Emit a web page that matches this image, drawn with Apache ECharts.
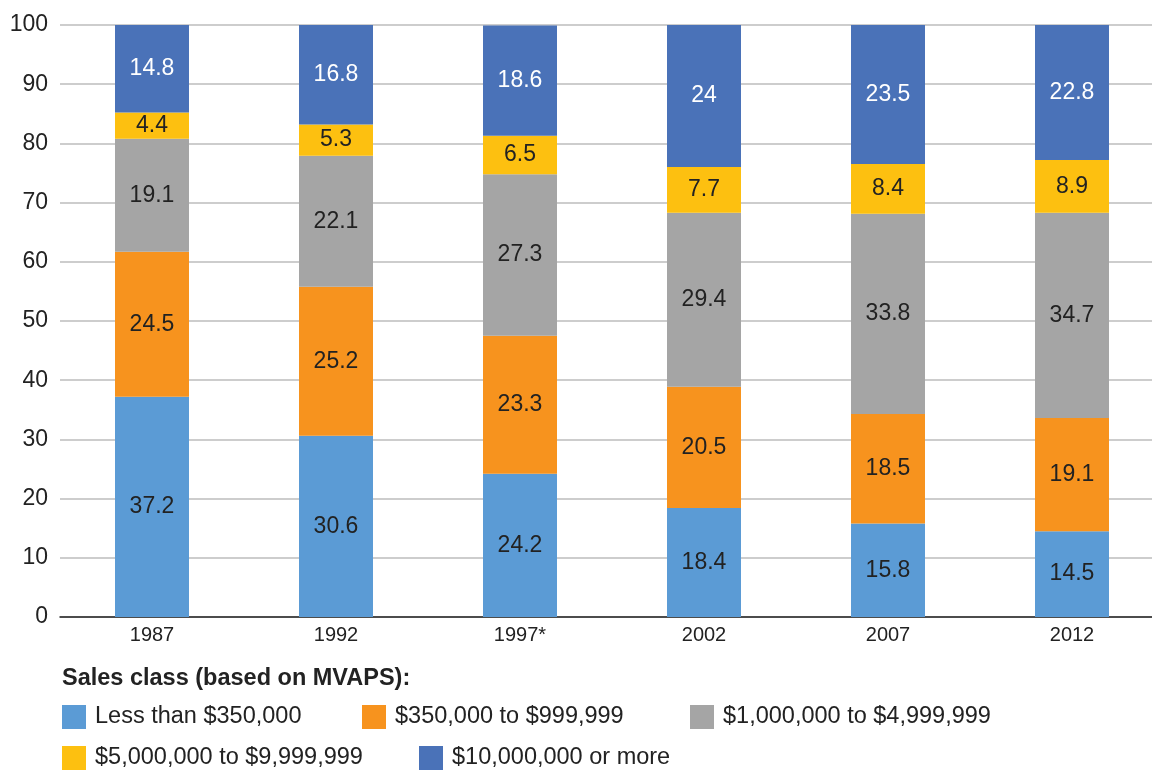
<!DOCTYPE html>
<html>
<head>
<meta charset="utf-8">
<script src="https://cdn.jsdelivr.net/npm/echarts@6/dist/echarts.min.js"></script>
<style>html,body{margin:0;padding:0;background:#fff}#c{width:1152px;height:772px}</style>
</head>
<body>
<div id="c"></div>
<script>
const categories = ['1987', '1992', '1997*', '2002', '2007', '2012'];
const seriesNames = ['Less than $350,000', '$350,000 to $999,999', '$1,000,000 to $4,999,999', '$5,000,000 to $9,999,999', '$10,000,000 or more'];
const lessThan350k = [37.2, 30.6, 24.2, 18.4, 15.8, 14.5];
const from350kTo999k = [24.5, 25.2, 23.3, 20.5, 18.5, 19.1];
const from1mTo4999k = [19.1, 22.1, 27.3, 29.4, 33.8, 34.7];
const from5mTo9999k = [4.4, 5.3, 6.5, 7.7, 8.4, 8.9];
const over10m = [14.8, 16.8, 18.6, 24, 23.5, 22.8];
const yTicks = { min: 0, max: 100, interval: 10 };

const colors = ['#5B9BD5', '#F7931E', '#A5A5A5', '#FDC010', '#4A72B8'];
const labelColors = ['#222', '#222', '#222', '#222', '#fff'];
const values = [lessThan350k, from350kTo999k, from1mTo4999k, from5mTo9999k, over10m];
const FONT = 'Liberation Sans, Arial, sans-serif';

const series = values.map((v, i) => ({
  name: seriesNames[i],
  type: 'bar',
  stack: 'total',
  barWidth: 74,
  data: v,
  itemStyle: { color: colors[i] },
  label: {
    show: true,
    position: 'inside',
    color: labelColors[i],
    fontSize: 23,
    fontFamily: FONT
  },
  emphasis: { disabled: true }
}));

const legendPos = [
  { left: 62, top: 705 },
  { left: 362, top: 705 },
  { left: 690, top: 705 },
  { left: 62, top: 746 },
  { left: 419, top: 746 }
];
const legends = seriesNames.map((n, i) => ({
  data: [n],
  left: legendPos[i].left,
  top: legendPos[i].top,
  padding: 0,
  itemWidth: 24,
  itemHeight: 24,
  itemGap: 10,
  icon: 'rect',
  selectedMode: false,
  textStyle: { fontSize: 23.5, color: '#222', fontFamily: FONT, padding: [4, 0, 0, 4] }
}));

const chart = echarts.init(document.getElementById('c'));
chart.setOption({
  animation: false,
  color: colors,
  title: {
    text: 'Sales class (based on MVAPS):',
    left: 62,
    top: 667,
    padding: 0,
    textStyle: { fontSize: 23.5, fontWeight: 'bold', color: '#222', fontFamily: FONT }
  },
  legend: legends,
  grid: { left: 60, top: 25, bottom: 155, right: -12, outerBoundsMode: 'none', containLabel: false },
  xAxis: {
    type: 'category',
    data: categories,
    axisTick: { show: false },
    axisLine: { lineStyle: { color: '#222', width: 1.5 } },
    axisLabel: { fontSize: 20, color: '#222', fontFamily: FONT, margin: 8 }
  },
  yAxis: {
    type: 'value',
    min: yTicks.min,
    max: yTicks.max,
    interval: yTicks.interval,
    axisLine: { show: false },
    axisTick: { show: false },
    axisLabel: { fontSize: 23, color: '#222', fontFamily: FONT, margin: 12 },
    splitLine: { lineStyle: { color: '#BDBDBD', width: 1.5 } }
  },
  series: series
});
</script>
</body>
</html>
